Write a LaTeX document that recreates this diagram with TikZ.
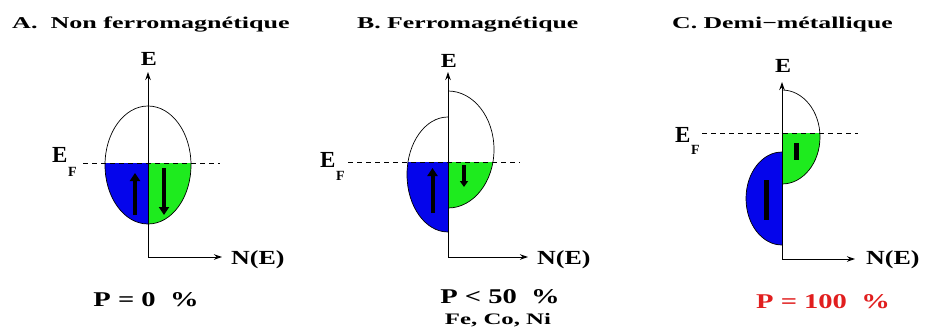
\documentclass[tikz,border=0pt]{standalone}
\usepackage{fontspec}
\setmainfont{Liberation Serif}
\usetikzlibrary{arrows.meta}
\definecolor{upblue}{RGB}{5,5,235}
\definecolor{dngreen}{RGB}{30,235,30}
\definecolor{pred}{RGB}{225,30,30}
\newcommand{\fsz}[3]{\fontsize{#1}{#1}\selectfont\scalebox{#2}[1]{#3}}
\tikzset{
  axis/.style={line width=1pt, -{Stealth[length=8pt,width=5.5pt]}},
  fermi/.style={line width=0.8pt, dash pattern=on 5pt off 4pt},
  dos/.style={line width=0.7pt},
  spinarrow/.style={line width=4pt, -{Triangle[length=8pt,width=10pt]}},
  spinsmall/.style={line width=4pt, -{Triangle[length=6pt,width=8pt]}},
  spinbar/.style={line width=5pt},
  lbl/.style={inner sep=0pt, font=\bfseries},
}
\begin{document}
\begin{tikzpicture}[x=1pt,y=-1pt]
\useasboundingbox (0,0) rectangle (930,335);
\fill[white] (0,0) rectangle (930,335);

% ---------- titles ----------
\node[lbl, anchor=base west] (tA) at (12,28) {\fsz{16.5}{1.58}{A.\ \ Non ferromagnétique}};
\node[lbl, anchor=base west] (tB) at (357,28) {\fsz{16.5}{1.56}{B. Ferromagnétique}};
\node[lbl, anchor=base west] (tC) at (672,28) {\fsz{16.5}{1.56}{C. Demi−métallique}};

% ================= Panel A =================
\coordinate (Ao) at (148,257);
\coordinate (Atop) at (148,72);
\coordinate (Aright) at (222,257);
\coordinate (AFl) at (83,163);
\coordinate (AFr) at (220,163);
\begin{scope}
  \clip (100,163) rectangle (148,230);
  \fill[upblue] (148,165) ellipse [x radius=43, y radius=59];
\end{scope}
\begin{scope}
  \clip (148,163) rectangle (196,230);
  \fill[dngreen] (148,165) ellipse [x radius=43, y radius=59];
\end{scope}
\draw[dos] (148,165) ellipse [x radius=43, y radius=59];
\draw[axis] (Ao) -- (Atop);
\draw[axis] (Ao) -- (Aright);
\draw[fermi] (AFl) -- (AFr);
\coordinate (Au1) at (135,215); \coordinate (Au2) at (135,173);
\coordinate (Ad1) at (164,168); \coordinate (Ad2) at (164,215);
\draw[spinarrow] (Au1) -- (Au2);
\draw[spinarrow] (Ad1) -- (Ad2);
\node[lbl, anchor=base] (AE) at (149,65) {\fsz{20}{1.2}{E}};
\node[lbl, anchor=base west] (AN) at (231,264) {\fsz{20}{1.3}{N(E)}};
\node[lbl, anchor=base west] (AEF) at (52,162) {\fsz{23}{1}{E}};
\node[lbl, anchor=base west] (AEFs) at (68,176) {\fsz{14}{1}{F}};
\node[lbl, anchor=base] (AP) at (146,306.5) {\fsz{21}{1.36}{P = 0 \ \%}};

% ================= Panel B =================
\coordinate (Bo) at (448,257);
\coordinate (Btop) at (448,72);
\coordinate (Bright) at (528,257);
\coordinate (BFl) at (348,162);
\coordinate (BFr) at (520,162);
\begin{scope}
  \clip (400,162) rectangle (448,240);
  \fill[upblue] (448,174.5) ellipse [x radius=41, y radius=57.5];
\end{scope}
\begin{scope}
  \clip (448,162) rectangle (500,240);
  \fill[dngreen] (448,149.5) ellipse [x radius=46, y radius=58.5];
\end{scope}
\begin{scope}
  \clip (400,100) rectangle (448,240);
  \draw[dos] (448,174.5) ellipse [x radius=41, y radius=57.5];
\end{scope}
\begin{scope}
  \clip (448,80) rectangle (500,240);
  \draw[dos] (448,149.5) ellipse [x radius=46, y radius=58.5];
\end{scope}
\draw[axis] (Bo) -- (Btop);
\draw[axis] (Bo) -- (Bright);
\draw[fermi] (BFl) -- (BFr);
\coordinate (Bu1) at (432.5,213); \coordinate (Bu2) at (432.5,168);
\coordinate (Bd1) at (464,165); \coordinate (Bd2) at (464,187);
\draw[spinarrow] (Bu1) -- (Bu2);
\draw[spinsmall] (Bd1) -- (Bd2);
\node[lbl, anchor=base] (BE) at (449,67) {\fsz{20}{1.2}{E}};
\node[lbl, anchor=base west] (BN) at (537,264) {\fsz{20}{1.3}{N(E)}};
\node[lbl, anchor=base west] (BEF) at (320,167) {\fsz{23}{1}{E}};
\node[lbl, anchor=base west] (BEFs) at (336,180) {\fsz{14}{1}{F}};
\node[lbl, anchor=base] (BP) at (500,303) {\fsz{21}{1.36}{P < 50 \ \%}};
\node[lbl, anchor=base] (BM) at (498,324) {\fsz{16}{1.55}{Fe, Co, Ni}};

% ================= Panel C =================
\coordinate (Co) at (782,259);
\coordinate (Ctop) at (782,82);
\coordinate (Cright) at (855,259);
\coordinate (CFl) at (702,133);
\coordinate (CFr) at (858,133);
\begin{scope}
  \clip (782,133) rectangle (830,190);
  \fill[dngreen] (782,137) ellipse [x radius=38, y radius=47];
\end{scope}
\begin{scope}
  \clip (740,150) rectangle (782,250);
  \fill[upblue] (782,198.5) ellipse [x radius=36, y radius=46.5];
\end{scope}
\begin{scope}
  \clip (782,85) rectangle (830,190);
  \draw[dos] (782,137) ellipse [x radius=38, y radius=47];
\end{scope}
\begin{scope}
  \clip (740,150) rectangle (782,250);
  \draw[dos] (782,198.5) ellipse [x radius=36, y radius=46.5];
\end{scope}
\draw[axis] (Co) -- (Ctop);
\draw[axis] (Co) -- (Cright);
\draw[fermi] (CFl) -- (CFr);
\coordinate (Cg1) at (796,143); \coordinate (Cg2) at (796,160);
\coordinate (Cb1) at (766,180); \coordinate (Cb2) at (766,220);
\draw[spinbar] (Cg1) -- (Cg2);
\draw[spinbar] (Cb1) -- (Cb2);
\node[lbl, anchor=base] (CE) at (783,72) {\fsz{20}{1.2}{E}};
\node[lbl, anchor=base west] (CN) at (866,264) {\fsz{20}{1.3}{N(E)}};
\node[lbl, anchor=base west] (CEF) at (675,142) {\fsz{23}{1}{E}};
\node[lbl, anchor=base west] (CEFs) at (691,154) {\fsz{14}{1}{F}};
\node[lbl, anchor=base, text=pred] (CP) at (823,308) {\fsz{21}{1.36}{P = 100 \ \%}};
\end{tikzpicture}
\end{document}
